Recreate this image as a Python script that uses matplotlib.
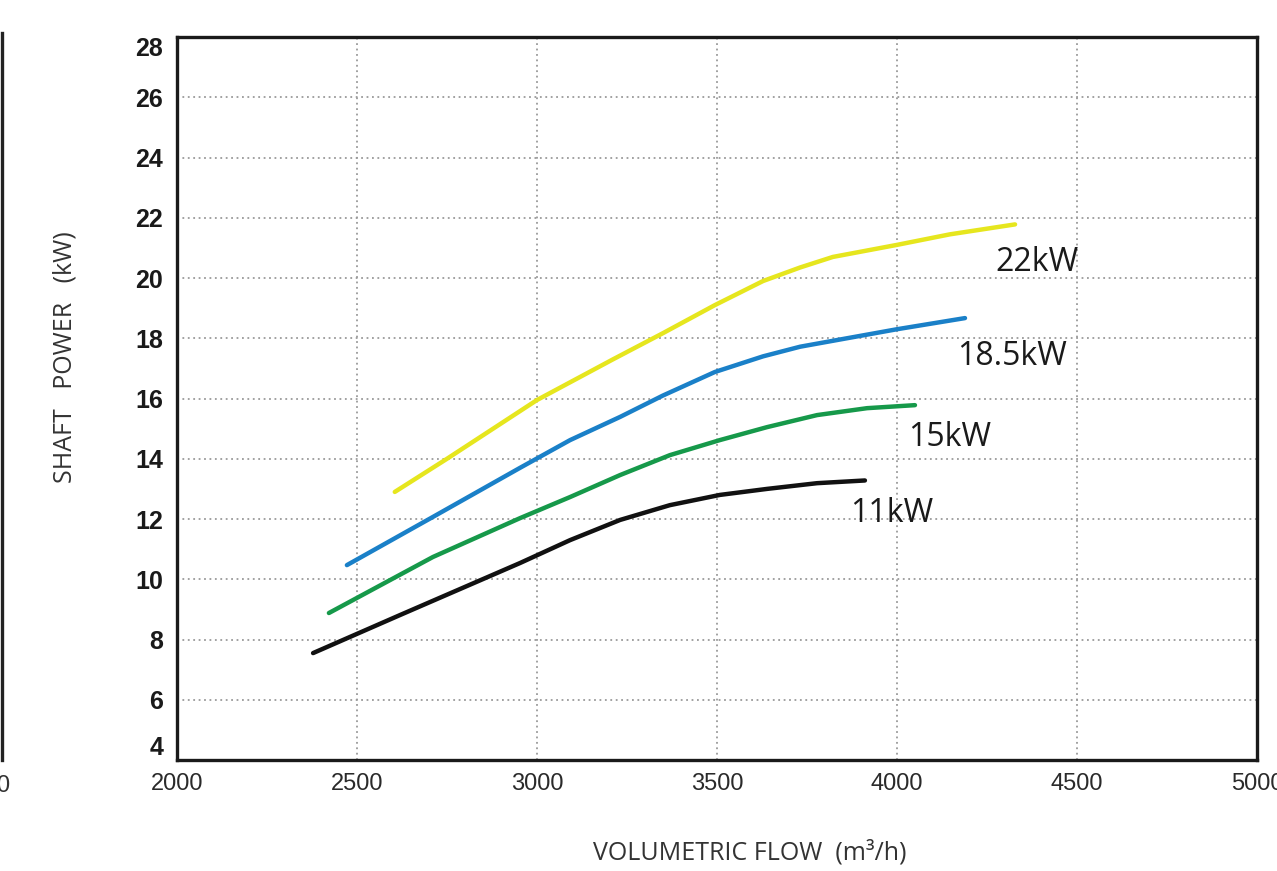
import matplotlib.pyplot as plt
from matplotlib.lines import Line2D

# data
flow_11 = [2378, 2619, 2953, 3092, 3231, 3369, 3508, 3639, 3778, 3911]
power_11 = [7.55, 8.81, 10.54, 11.3, 11.97, 12.46, 12.8, 13.0, 13.19, 13.28]

flow_15 = [2422, 2711, 2953, 3092, 3231, 3369, 3508, 3639, 3778, 3917, 4050]
power_15 = [8.88, 10.74, 12.03, 12.73, 13.46, 14.12, 14.62, 15.05, 15.45, 15.68, 15.78]

flow_185 = [2472, 2711, 2953, 3092, 3231, 3350, 3494, 3628, 3731, 4000, 4189]
power_185 = [10.47, 12.07, 13.7, 14.62, 15.39, 16.1, 16.88, 17.4, 17.72, 18.3, 18.67]

flow_22 = [2605, 2750, 3000, 3211, 3350, 3494, 3628, 3731, 3822, 4000, 4147, 4328]
power_22 = [12.9, 14.0, 15.95, 17.3, 18.17, 19.1, 19.9, 20.35, 20.7, 21.1, 21.45, 21.78]

labels = ['11kW', '15kW', '18.5kW', '22kW']
label_x = [3869, 4031, 4167, 4272]
label_y = [12.2, 14.69, 17.38, 20.53]

x_ticks = [2000, 2500, 3000, 3500, 4000, 4500, 5000]
y_ticks = [4, 6, 8, 10, 12, 14, 16, 18, 20, 22, 24, 26, 28]


def main():
    fig = plt.figure(figsize=(12.77, 8.71), dpi=100)
    ax = fig.add_axes([0.1386, 0.1274, 0.8457, 0.8301])

    tick_font = ['Liberation Sans', 'DejaVu Sans']
    text_font = ['Open Sans', 'DejaVu Sans']

    # dotted grid
    for x in x_ticks[1:-1]:
        ax.axvline(x, color='#9a9a9a', lw=1.3, ls=(0, (1, 2)), zorder=1)
    for y in y_ticks[1:-1]:
        ax.axhline(y, color='#9a9a9a', lw=1.3, ls=(0, (1, 2)), zorder=1)

    # curves
    style = dict(lw=3.2, solid_capstyle='round', solid_joinstyle='round', zorder=3)
    ax.plot(flow_11, power_11, color='#111111', **style)
    ax.plot(flow_15, power_15, color='#16994a', **style)
    ax.plot(flow_185, power_185, color='#1a80c8', **style)
    ax.plot(flow_22, power_22, color='#e6e61e', **style)

    for lab, lx, ly in zip(labels, label_x, label_y):
        ax.text(lx, ly, lab, fontsize=23, family=text_font,
                va='center', ha='left', color='#1a1a1a', zorder=4)

    ax.set_xlim(2000, 5000)
    ax.set_ylim(4, 28)
    ax.set_xticks(x_ticks)
    ax.set_yticks(y_ticks)
    ax.set_xticklabels([str(v) for v in x_ticks], fontsize=17, family=tick_font,
                       color='#2a2a2a')
    ax.set_yticklabels([str(v) for v in y_ticks], fontsize=18, family=tick_font,
                       fontweight='bold', color='#1a1a1a')
    ax.tick_params(axis='x', length=0, pad=9)
    ax.tick_params(axis='y', length=0, pad=10)
    ylabs = ax.get_yticklabels()
    ylabs[0].set_va('bottom')
    ylabs[-1].set_va('top')
    for s in ax.spines.values():
        s.set_linewidth(2.4)
        s.set_color('#1a1a1a')

    fig.text(0.051, 0.59, 'SHAFT   POWER   (kW)', rotation=90, fontsize=18,
             family=text_font, ha='center', va='center', color='#333333')
    fig.text(0.587, 0.021, 'VOLUMETRIC FLOW  (m\u00b3/h)', fontsize=18,
             family=text_font, ha='center', va='center', color='#333333')

    # edge of the neighbouring chart on the left
    fig.add_artist(Line2D([0.0015, 0.0015], [0.1274, 0.962], color='#222222',
                          lw=2.4, transform=fig.transFigure))
    fig.text(-0.003, 0.098, '0', fontsize=17, family=tick_font, ha='left',
             va='center', color='#333333')

    fig.savefig('out.png', dpi=100)


if __name__ == "__main__":
    main()
